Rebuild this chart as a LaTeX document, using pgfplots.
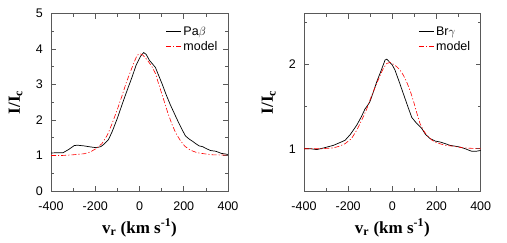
\documentclass[border=0pt]{standalone}
\usepackage{fontspec}
\setmainfont{Liberation Sans}
\newfontfamily\labfont{Liberation Serif}
\usepackage{pgfplots}
\pgfplotsset{compat=1.18}

\pgfplotsset{
  lineplot/.style={
    scale only axis,
    width=177pt, height=177.5pt,
    xmin=-400, xmax=400,
    xtick={-400,-200,0,200,400},
    xticklabels={-400,-200,0,200,400},
    minor x tick num=1,
    minor y tick num=1,
    tick align=inside,
    major tick length=5pt,
    minor tick length=3pt,
    axis line style={black!65, line width=0.6pt},
    every tick/.style={black!65, line width=0.6pt},
    tick label style={font=\fontsize{12.5}{14}\selectfont, inner sep=1pt},
    xticklabel style={yshift=-10pt},
    yticklabel style={xshift=-7pt},
    label style={font=\labfont\bfseries\fontsize{17}{19}\selectfont},
    xlabel style={at={(axis description cs:0.5,-0.208)}, anchor=center},
    ylabel style={at={(axis description cs:-0.2,0.5)}, anchor=center},
    xlabel={v\textsubscript{r} (km s\textsuperscript{-1})},
    ylabel={I/I\textsubscript{c}},
    legend style={draw=none, fill=none, at={(0.97,0.95)}, anchor=north east,
      font=\fontsize{12.5}{14}\selectfont, row sep=0.5pt},
    legend cell align=left,
    legend image code/.code={\draw[#1] (0pt,0pt) -- (15pt,0pt);},
  },
  obs/.style={black, line width=0.7pt},
  mod/.style={red, line width=0.6pt, dash pattern=on 5pt off 2pt on 1.2pt off 2pt},
}

\begin{document}
\begin{tikzpicture}[x=1pt,y=1pt]
\path[use as bounding box] (0,0) rectangle (507,242);

\begin{axis}[lineplot, at={(51pt,51pt)}, anchor=south west,
  ymin=0, ymax=5, ytick={0,1,2,3,4,5}, yticklabels={0,1,2,3,4,5}]
\addplot[obs] coordinates {
 (-400,1.07) (-370,1.08) (-345,1.08) (-320,1.17) (-295,1.28) (-280,1.29)
 (-250,1.27) (-220,1.24) (-195,1.22) (-175,1.25) (-160,1.32) (-140,1.45)
 (-123,1.68) (-100,2.05) (-78,2.45) (-55,2.85) (-33,3.22) (-15,3.55)
 (5,3.80) (19,3.90) (30,3.85) (45,3.68) (60,3.57) (72,3.48) (85,3.28)
 (102,3.02) (120,2.72) (140,2.42) (160,2.15) (178,1.91) (195,1.70)
 (208,1.55) (225,1.46) (240,1.40) (255,1.33) (270,1.27) (285,1.25)
 (300,1.20) (321,1.14) (345,1.12) (370,1.06) (400,1.03)
};
\addlegendentry{Pa$\beta$}
\addplot[mod] coordinates {
 (-400,1.00) (-350,1.00) (-300,1.02) (-250,1.05) (-222,1.10) (-195,1.20)
 (-169,1.34) (-145,1.58) (-123,1.91) (-100,2.30) (-78,2.70) (-60,3.05)
 (-41,3.36) (-25,3.62) (-10,3.83) (5,3.86) (15,3.83) (35,3.69) (55,3.52)
 (72,3.31) (90,2.95) (110,2.56) (128,2.20) (148,1.86) (165,1.62)
 (185,1.42) (205,1.26) (230,1.15) (260,1.08) (291,1.05) (330,1.02)
 (400,1.01)
};
\addlegendentry{model}
\end{axis}

\begin{axis}[lineplot, at={(304pt,51pt)}, anchor=south west, width=176.7pt,
  ymin=0.5, ymax=2.6, ytick={1,2}, yticklabels={1,2},
  minor ytick={0.5,1.5,2.5}]
\addplot[obs] coordinates {
 (-400,1.00) (-370,1.00) (-342,0.99) (-310,1.01) (-267,1.04) (-240,1.07)
 (-214,1.10) (-190,1.17) (-161,1.28) (-140,1.38) (-124,1.47) (-110,1.52)
 (-101,1.56) (-85,1.68) (-71,1.79) (-50,1.93) (-33,2.05) (-25,2.06)
 (-18,2.04) (0,1.99) (12,1.93) (30,1.80) (50,1.65) (70,1.50) (88,1.37)
 (110,1.30) (133,1.24) (150,1.17) (171,1.12) (195,1.09) (216,1.08)
 (240,1.06) (261,1.04) (285,1.03) (306,1.02) (330,1.00) (359,0.97)
 (380,0.97) (400,0.98)
};
\addlegendentry{Br$\gamma$}
\addplot[mod] coordinates {
 (-400,1.00) (-320,1.00) (-267,1.01) (-240,1.03) (-214,1.06) (-185,1.12)
 (-161,1.22) (-140,1.33) (-116,1.47) (-95,1.62) (-71,1.77) (-55,1.87)
 (-41,1.95) (-25,2.01) (-10,2.02) (5,2.00) (20,1.97) (35,1.93) (50,1.87)
 (65,1.79) (80,1.69) (95,1.57) (110,1.43) (125,1.30) (140,1.22)
 (156,1.16) (180,1.10) (201,1.07) (240,1.04) (276,1.03) (320,1.01)
 (400,1.00)
};
\addlegendentry{model}
\end{axis}
\end{tikzpicture}
\end{document}
